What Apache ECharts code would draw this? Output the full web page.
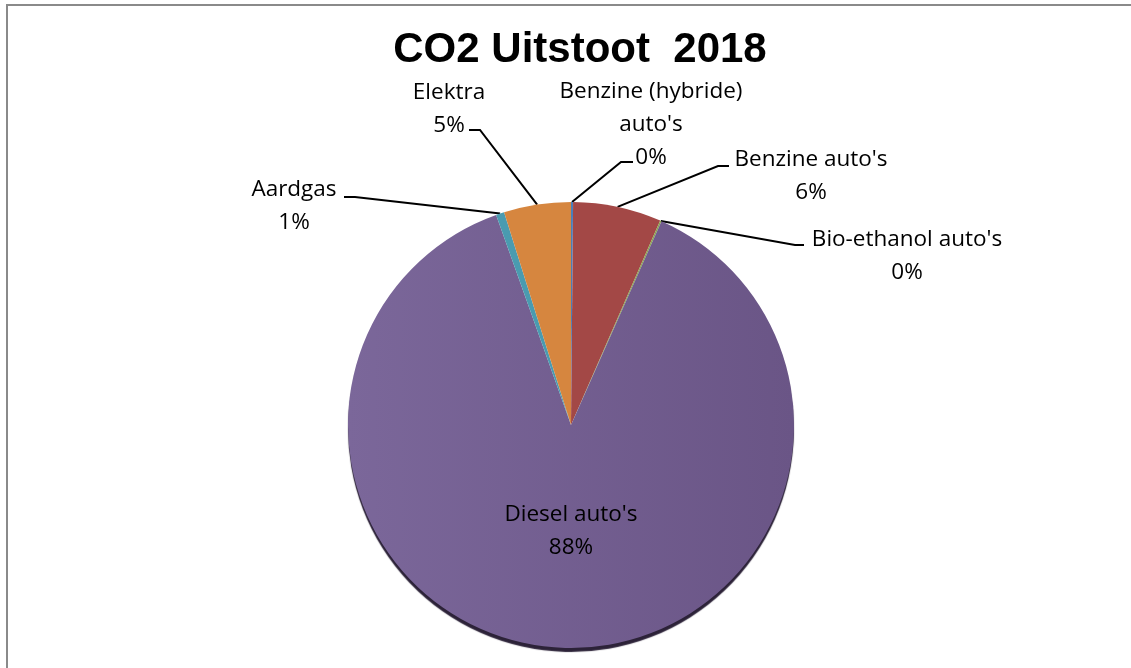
<!DOCTYPE html>
<html>
<head>
<meta charset="utf-8">
<script src="https://cdn.jsdelivr.net/npm/echarts@6/dist/echarts.min.js"></script>
<style>
  html, body { margin: 0; padding: 0; background: #fff; }
  #frame { position: absolute; left: 6px; top: 4px; width: 1140px; height: 680px;
           border-left: 2px solid #8a8a8a; border-top: 2px solid #8a8a8a; }
  #chart { position: absolute; left: 0; top: 0; width: 1131px; height: 668px; }
</style>
</head>
<body>
<div id="frame"></div>
<div id="chart"></div>
<script>
// ---- data ----
const titleText = 'CO2 Uitstoot  2018';
const categories = ["Benzine (hybride) auto's", "Benzine auto's", "Bio-ethanol auto's", "Diesel auto's", "Aardgas", "Elektra"];
const labelNames = ["Benzine (hybride)\nauto's", "Benzine auto's", "Bio-ethanol auto's", "Diesel auto's", "Aardgas", "Elektra"];
const values = [0.15, 6.4, 0.1, 87.9, 0.6, 4.85];
const colors = ['#4a7ebb', '#a34846', '#8aa64e', '#735d93', '#4a9bb0', '#d6863f'];

// ---- layout (label anchor and leader-line elbows, pixels) ----
const labelLayoutCfg = [
  { x: 651, y: 125, elbow: [[621, 162], [633, 162]] },
  { x: 811, y: 176, elbow: [[718, 166], [729, 166]] },
  { x: 907, y: 256, elbow: [[795, 245], [804, 245]] },
  { x: 571, y: 531, elbow: null },
  { x: 294, y: 206, elbow: [[355, 197], [344, 197]] },
  { x: 449, y: 109, elbow: [[480, 130], [469, 130]] }
];

const chart = echarts.init(document.getElementById('chart'), null, { renderer: 'canvas' });

const data = categories.map((c, i) => {
  const item = {
    name: c,
    value: values[i],
    itemStyle: { color: colors[i] }
  };
  if (i === 3) {
    item.itemStyle = {
      color: new echarts.graphic.LinearGradient(0, 0, 1, 0, [
        { offset: 0, color: '#7b679a' },
        { offset: 1, color: '#6a5586' }
      ]),
      shadowColor: '#2c2238',
      shadowOffsetY: 4,
      shadowBlur: 1
    };
    item.label = { position: 'inside' };
    item.labelLine = { show: false };
  }
  return item;
});

chart.setOption({
  animation: false,
  title: {
    text: titleText,
    left: 575,
    textAlign: 'center',
    top: 24,
    textStyle: { fontFamily: 'Liberation Sans', fontWeight: 'bold', fontSize: 42, color: '#000' }
  },
  series: [{
    type: 'pie',
    center: [571, 425],
    radius: 223,
    startAngle: 90,
    clockwise: true,
    avoidLabelOverlap: false,
    minAngle: 0,
    percentPrecision: 0,
    data: data,
    itemStyle: { borderWidth: 0 },
    label: {
      show: true,
      position: 'outside',
      formatter: p => labelNames[p.dataIndex] + '\n' + p.percent + '%',
      fontFamily: 'Open Sans',
      fontSize: 22.5,
      lineHeight: 33,
      color: '#000',
      align: 'center'
    },
    labelLine: {
      show: true,
      length: 10,
      length2: 10,
      lineStyle: { color: '#000', width: 2 }
    },
    labelLayout: function (params) {
      const cfg = labelLayoutCfg[params.dataIndex];
      const out = { x: cfg.x, y: cfg.y, align: 'center', verticalAlign: 'middle' };
      if (cfg.elbow && params.labelLinePoints) {
        out.labelLinePoints = [params.labelLinePoints[0], cfg.elbow[0], cfg.elbow[1]];
      }
      return out;
    },
    emphasis: { disabled: true }
  }]
});
</script>
</body>
</html>
